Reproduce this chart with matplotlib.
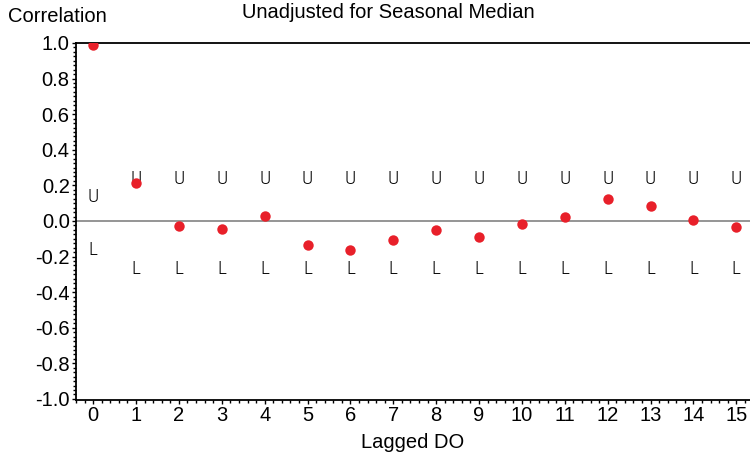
import matplotlib
matplotlib.use("Agg")
import matplotlib.pyplot as plt
from matplotlib import font_manager as fm
from matplotlib.ticker import MultipleLocator, FormatStrFormatter

lags = list(range(16))
correlation = [0.99, 0.215, -0.03, -0.045, 0.03, -0.135, -0.165, -0.105,
               -0.05, -0.09, -0.015, 0.02, 0.125, 0.085, 0.005, -0.035]
upper = [0.148] + [0.254] * 15
lower = [-0.148] + [-0.254] * 15

title = "Unadjusted for Seasonal Median"
ylabel = "Correlation"
xlabel = "Lagged DO"

plt.rcParams['font.family'] = ['Liberation Sans', 'DejaVu Sans']

# pick a narrow font for the U / L markers
narrow = None
for name in ['Liberation Sans Narrow', 'DejaVu Sans Condensed', 'Roboto Condensed']:
    try:
        fm.findfont(fm.FontProperties(family=name), fallback_to_default=False)
        narrow = name
        break
    except Exception:
        pass

fig = plt.figure(figsize=(7.5, 4.55), dpi=100)
ax = fig.add_axes([76 / 750, 1 - 400 / 455, 1 - 76 / 750, (400 - 43) / 455])

ax.axhline(0, color='#8c8c8c', lw=1.3, zorder=1)
ax.plot(lags, correlation, 'o', color='#e8202a', ms=7.5, mec='none', zorder=3)

tkw = dict(ha='center', va='center', fontsize=14, color='black', zorder=2,
           fontweight='light')
if narrow:
    tkw['family'] = narrow
else:
    tkw['family'] = 'DejaVu Sans'
    tkw['fontstretch'] = 'ultra-condensed'
for x, u, l in zip(lags, upper, lower):
    ax.annotate('U', (x, u), xytext=(0, -2), textcoords='offset points', **tkw)
    ax.annotate('L', (x, l), xytext=(0, -2), textcoords='offset points', **tkw)

ax.set_xlim(-0.4, 15.32)
ax.set_ylim(-1.006, 1.0)

ax.xaxis.set_major_locator(MultipleLocator(1))
ax.xaxis.set_minor_locator(MultipleLocator(0.2))
ax.yaxis.set_major_locator(MultipleLocator(0.2))
ax.yaxis.set_minor_locator(MultipleLocator(0.025))
ax.yaxis.set_major_formatter(FormatStrFormatter('%.1f'))

ax.tick_params(axis='both', which='major', direction='out', length=3, width=1,
               labelsize=14.5, pad=1.5, color='black')
ax.tick_params(axis='both', which='minor', direction='out', length=2, width=1)

ax.spines['right'].set_visible(False)
for s in ['left', 'bottom', 'top']:
    ax.spines[s].set_linewidth(1.3)
    ax.spines[s].set_color('black')

fig.text(8 / 750, 1 - 17 / 455, ylabel, fontsize=14.5, ha='left', va='center')
fig.text(388 / 750, 1 - 12 / 455, title, fontsize=14.5, ha='center', va='center')
fig.text(413 / 750, 1 - 442 / 455, xlabel, fontsize=14.5, ha='center', va='center')

fig.savefig('out.png', dpi=100)
